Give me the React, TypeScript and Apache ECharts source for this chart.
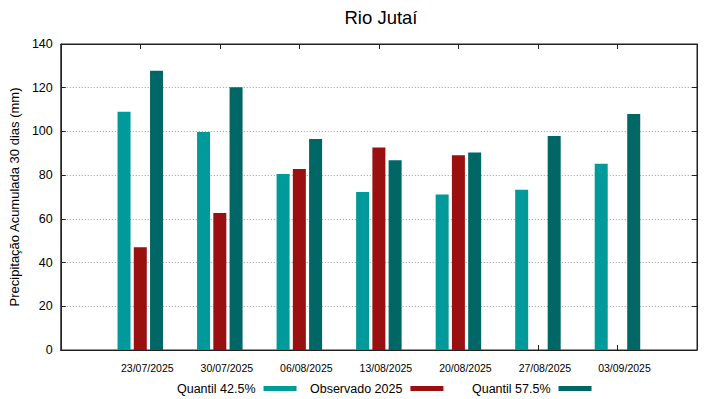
import React, { useEffect, useRef } from "react";
import * as echarts from "echarts";

const categories = ["", "23/07/2025", "30/07/2025", "06/08/2025", "13/08/2025", "20/08/2025", "27/08/2025", "03/09/2025", ""];
const quantil425 = [null, 109, 99.7, 80.5, 72.3, 71.2, 73.3, 85.2, null];
const observado2025 = [null, 47, 62.7, 82.8, 92.6, 89.1, null, null, null];
const quantil575 = [null, 127.8, 120.2, 96.5, 86.8, 90.4, 97.9, 108, null];
const yTicks = { min: 0, max: 140, interval: 20 };

const FONT = "Liberation Sans";
const C1 = "#009a9a";
const C2 = "#9a0f0f";
const C3 = "#006666";
const AX = "#222";

export default function App() {
  const ref = useRef<HTMLDivElement>(null);
  useEffect(() => {
    if (!ref.current) return;
    const chart = echarts.init(ref.current, null, { renderer: "svg" });
    const legendBase = () => ({
      orient: "horizontal",
      top: 382,
      align: "right",
      itemWidth: 33,
      itemHeight: 5,
      icon: "rect",
      selectedMode: false,
      padding: 0,
      textStyle: { fontFamily: FONT, fontSize: 12.5, color: "#000", padding: [0, 3, 0, 0] },
    });
    const tickStyle = () => ({ show: true, inside: true, length: 5, lineStyle: { color: AX } });
    chart.setOption({
      animation: false,
      textStyle: { fontFamily: FONT },
      title: {
        text: "Rio Jutaí",
        left: 376,
        textAlign: "center",
        top: 3,
        textStyle: { fontFamily: FONT, fontSize: 18.5, fontWeight: "normal", color: "#000" },
      },
      legend: [
        { ...legendBase(), left: 177, data: ["Quantil 42.5%"] },
        { ...legendBase(), left: 310, data: ["Observado 2025"] },
        { ...legendBase(), left: 472, data: ["Quantil 57.5%"] },
      ],
      grid: {
        left: 59,
        right: 22,
        top: 44,
        bottom: 49,
        show: true,
        borderColor: AX,
        borderWidth: 1,
        containLabel: false,
      },
      xAxis: [
        {
          type: "category",
          data: categories,
          position: "bottom",
          boundaryGap: false,
          axisLine: { show: true, onZero: false, lineStyle: { color: AX } },
          axisTick: tickStyle(),
          axisLabel: {
            fontFamily: FONT,
            fontSize: 10.5,
            color: "#000",
            margin: 12,
            interval: 0,
            padding: [0, 0, 0, 14],
          },
          splitLine: { show: false },
        },
        {
          type: "category",
          data: categories,
          position: "top",
          boundaryGap: false,
          axisLine: { show: true, onZero: false, lineStyle: { color: AX } },
          axisTick: tickStyle(),
          axisLabel: { show: false },
          splitLine: { show: false },
        },
      ],
      yAxis: [
        {
          type: "value",
          min: yTicks.min,
          max: yTicks.max,
          interval: yTicks.interval,
          position: "left",
          name: "Precipitação Acumulada 30 dias (mm)",
          nameLocation: "middle",
          nameGap: 35,
          nameTextStyle: { fontFamily: FONT, fontSize: 13, color: "#000" },
          axisLine: { show: true, onZero: false, lineStyle: { color: AX } },
          axisTick: tickStyle(),
          axisLabel: { fontFamily: FONT, fontSize: 12.5, color: "#000", margin: 8 },
          splitLine: { show: true, lineStyle: { color: "#999", type: [1, 2], width: 1 } },
        },
        {
          type: "value",
          position: "right",
          min: yTicks.min,
          max: yTicks.max,
          interval: yTicks.interval,
          axisLine: { show: true, onZero: false, lineStyle: { color: AX } },
          axisTick: tickStyle(),
          axisLabel: { show: false },
          splitLine: { show: false },
        },
      ],
      series: [
        {
          name: "Quantil 42.5%",
          type: "bar",
          data: quantil425,
          barWidth: 13,
          barGap: "25%",
          itemStyle: { color: C1 },
        },
        {
          name: "Observado 2025",
          type: "bar",
          data: observado2025,
          barWidth: 13,
          barGap: "25%",
          itemStyle: { color: C2 },
        },
        {
          name: "Quantil 57.5%",
          type: "bar",
          data: quantil575,
          barWidth: 13,
          barGap: "25%",
          itemStyle: { color: C3 },
        },
      ],
    });
    return () => chart.dispose();
  }, []);
  return (
    <div
      ref={ref}
      style={{ position: "absolute", left: 0, top: 0, width: 719, height: 399, background: "#fff" }}
    />
  );
}
